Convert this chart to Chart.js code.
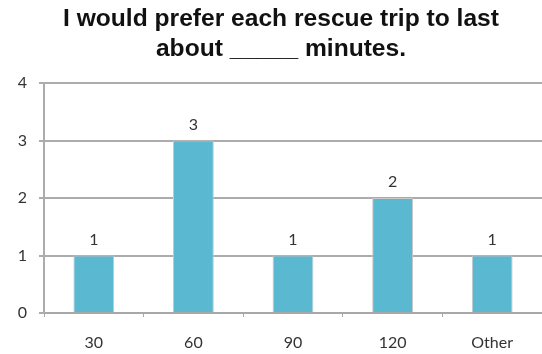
<!DOCTYPE html>
<html>
<head>
<meta charset="utf-8">
<script src="https://cdn.jsdelivr.net/npm/chart.js@4/dist/chart.umd.min.js"></script>
<style>
  html, body { margin: 0; padding: 0; background: #fff; }
  #wrap { width: 542px; height: 354px; }
</style>
</head>
<body>
<div id="wrap"><canvas id="canvas" width="542" height="354"></canvas></div>
<script>
const categories = ["30", "60", "90", "120", "Other"];
const counts = [1, 3, 1, 2, 1];
const yTicks = [0, 1, 2, 3, 4];

// prints each bar's value just above it
const valueLabels = {
  id: "valueLabels",
  afterDatasetsDraw(chart) {
    const ctx = chart.ctx;
    const meta = chart.getDatasetMeta(0);
    ctx.save();
    ctx.font = "16px Lato";
    ctx.fillStyle = "#333";
    ctx.textAlign = "center";
    ctx.textBaseline = "middle";
    meta.data.forEach((bar, i) => {
      ctx.fillText(String(counts[i]), bar.x, bar.y - 16);
    });
    ctx.restore();
  },
};

const config = {
  type: "bar",
  data: {
    labels: categories,
    datasets: [
      {
        data: counts,
        backgroundColor: "#5bb8d1",
        borderColor: "#c8c8c8",
        borderWidth: 1,
        categoryPercentage: 1,
        barPercentage: 0.41,
      },
    ],
  },
  options: {
    responsive: false,
    animation: false,
    layout: { padding: { left: 18, right: -2, top: 0, bottom: 0 } },
    plugins: {
      legend: { display: false },
      tooltip: { enabled: false },
      title: {
        display: true,
        text: ["I would prefer each rescue trip to last", "about _____ minutes."],
        color: "#111",
        font: { family: "'Liberation Sans'", size: 24.6, weight: "bold", lineHeight: 1.22 },
        padding: { top: 4, bottom: 19 },
      },
    },
    scales: {
      x: {
        afterFit(scale) {
          scale.height = 41;
        },
        grid: {
          drawOnChartArea: false,
          drawTicks: true,
          tickLength: 4,
          color: "#a8a8a8",
          lineWidth: 1,
        },
        border: { color: "#a8a8a8", width: 2 },
        ticks: {
          color: "#333",
          font: { family: "Lato", size: 16 },
          padding: 16,
        },
      },
      y: {
        min: 0,
        max: 4,
        afterBuildTicks(scale) {
          scale.ticks = yTicks.map((v) => ({ value: v }));
        },
        afterFit(scale) {
          scale.width = 26;
        },
        grid: {
          color: "#acacac",
          lineWidth: 2,
          tickLength: 5,
        },
        border: { color: "#acacac", width: 2 },
        ticks: {
          color: "#333",
          font: { family: "Lato", size: 16 },
          padding: 12,
        },
      },
    },
  },
  plugins: [valueLabels],
};

const canvas = document.getElementById("canvas");
const chart = new Chart(canvas, config);
</script>
</body>
</html>
